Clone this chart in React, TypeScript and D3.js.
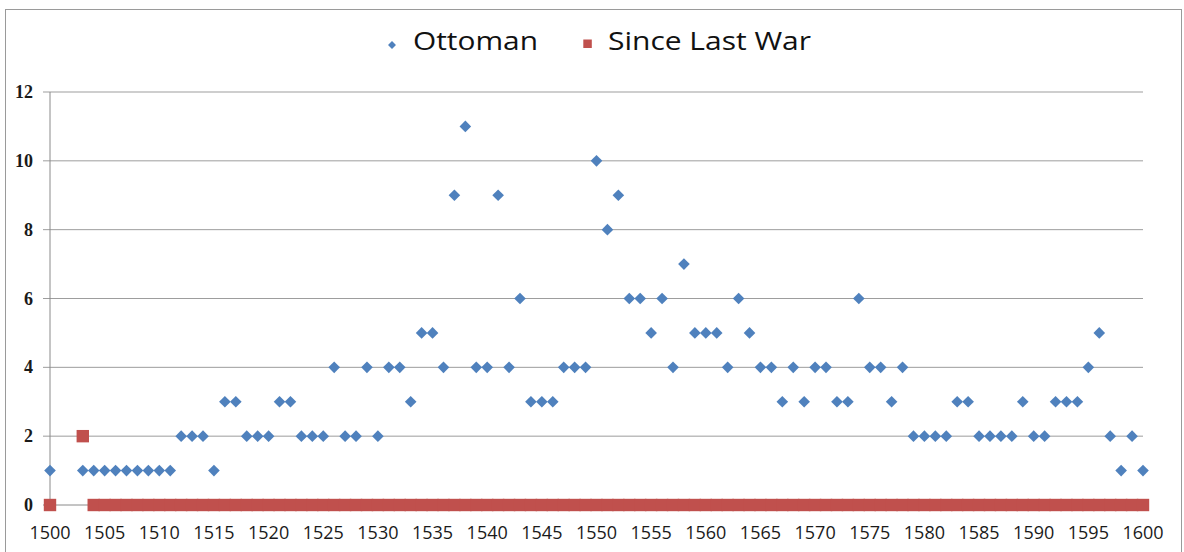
import React, { useEffect, useRef } from "react";
import * as d3 from "d3";

// years with Ottoman values (1501, 1502 have no point)
const ottomanYears = [
  1500, 1503, 1504, 1505, 1506, 1507, 1508, 1509, 1510, 1511,
  1512, 1513, 1514, 1515, 1516, 1517, 1518, 1519, 1520, 1521,
  1522, 1523, 1524, 1525, 1526, 1527, 1528, 1529, 1530, 1531,
  1532, 1533, 1534, 1535, 1536, 1537, 1538, 1539, 1540, 1541,
  1542, 1543, 1544, 1545, 1546, 1547, 1548, 1549, 1550, 1551,
  1552, 1553, 1554, 1555, 1556, 1557, 1558, 1559, 1560, 1561,
  1562, 1563, 1564, 1565, 1566, 1567, 1568, 1569, 1570, 1571,
  1572, 1573, 1574, 1575, 1576, 1577, 1578, 1579, 1580, 1581,
  1582, 1583, 1584, 1585, 1586, 1587, 1588, 1589, 1590, 1591,
  1592, 1593, 1594, 1595, 1596, 1597, 1598, 1599, 1600,
];
const ottomanValues = [
  1, 1, 1, 1, 1, 1, 1, 1, 1, 1,
  2, 2, 2, 1, 3, 3, 2, 2, 2, 3,
  3, 2, 2, 2, 4, 2, 2, 4, 2, 4,
  4, 3, 5, 5, 4, 9, 11, 4, 4, 9,
  4, 6, 3, 3, 3, 4, 4, 4, 10, 8,
  9, 6, 6, 5, 6, 4, 7, 5, 5, 5,
  4, 6, 5, 4, 4, 3, 4, 3, 4, 4,
  3, 3, 6, 4, 4, 3, 4, 2, 2, 2,
  2, 3, 3, 2, 2, 2, 2, 3, 2, 2,
  3, 3, 3, 4, 5, 2, 1, 2, 1,
];

// Since Last War: 1500 and 1503 explicit, then 0 from 1504 to 1600
const warYears = [1500, 1503, ...d3.range(1504, 1601)];
const warValues = [0, 2, ...d3.range(1504, 1601).map(() => 0)];

const xTicks = d3.range(1500, 1601, 5);
const yTicks = [0, 2, 4, 6, 8, 10, 12];

const App = () => {
  const ref = useRef<SVGSVGElement>(null);

  useEffect(() => {
    const width = 1184;
    const height = 552;
    const svg = d3.select(ref.current);
    svg.selectAll("*").remove();

    const x = d3.scaleLinear().domain([1500, 1600]).range([50, 1143]);
    const y = d3.scaleLinear().domain([0, 12]).range([505, 92]);

    svg.append("rect")
      .attr("width", width).attr("height", height).attr("fill", "#fff");
    svg.append("rect")
      .attr("x", 5.5).attr("y", 9.5)
      .attr("width", 1176).attr("height", 560)
      .attr("fill", "none").attr("stroke", "#9a9a9a");

    // gridlines
    svg.append("g")
      .selectAll("line")
      .data(yTicks.filter(d => d > 0))
      .enter().append("line")
      .attr("x1", x(1500) - 7).attr("x2", x(1600))
      .attr("y1", d => y(d)).attr("y2", d => y(d))
      .attr("stroke", "#9d9d9d").attr("stroke-width", 1);

    // axes lines
    svg.append("line")
      .attr("x1", x(1500)).attr("x2", x(1500))
      .attr("y1", y(12)).attr("y2", y(0))
      .attr("stroke", "#8a8a8a");
    svg.append("line")
      .attr("x1", x(1500) - 7).attr("x2", x(1600))
      .attr("y1", y(0)).attr("y2", y(0))
      .attr("stroke", "#8a8a8a");

    // y labels
    svg.append("g")
      .selectAll("text")
      .data(yTicks)
      .enter().append("text")
      .attr("x", 33).attr("y", d => y(d) + 6)
      .attr("text-anchor", "end")
      .attr("font-family", "Liberation Serif")
      .attr("font-weight", "bold")
      .attr("font-size", 18)
      .attr("fill", "#1a1a1a")
      .text(d => d);

    // x labels
    svg.append("g")
      .selectAll("text")
      .data(xTicks)
      .enter().append("text")
      .attr("x", d => x(d)).attr("y", 539)
      .attr("text-anchor", "middle")
      .attr("font-family", "Open Sans")
      .attr("font-size", 18)
      .attr("fill", "#1a1a1a")
      .text(d => d);

    const diamond = d3.symbol().type(d3.symbolDiamond2).size(86);
    const ottoman = ottomanYears.map((yr, i) => ({ yr, v: ottomanValues[i] }));
    svg.append("g")
      .attr("fill", "#4f81bd")
      .selectAll("path")
      .data(ottoman)
      .enter().append("path")
      .attr("d", diamond()!)
      .attr("transform", d => `translate(${x(d.yr)},${y(d.v)})`);

    const war = warYears.map((yr, i) => ({ yr, v: warValues[i] }));
    const sq = 12.4;
    svg.append("g")
      .attr("fill", "#c0504d")
      .selectAll("rect")
      .data(war)
      .enter().append("rect")
      .attr("x", d => x(d.yr) - sq / 2)
      .attr("y", d => y(d.v) - sq / 2)
      .attr("width", sq).attr("height", sq);

    // legend
    const legend = svg.append("g");
    legend.append("path")
      .attr("d", d3.symbol().type(d3.symbolDiamond2).size(40)()!)
      .attr("transform", "translate(392,45)")
      .attr("fill", "#4f81bd");
    legend.append("text")
      .attr("x", 413).attr("y", 49.5)
      .attr("font-family", "Open Sans").attr("font-size", 25)
      .attr("textLength", 125).attr("lengthAdjust", "spacingAndGlyphs")
      .attr("fill", "#111")
      .text("Ottoman");
    legend.append("rect")
      .attr("x", 583.3).attr("y", 39.5).attr("width", 8.5).attr("height", 8.5)
      .attr("fill", "#c0504d");
    legend.append("text")
      .attr("x", 608).attr("y", 49.5)
      .attr("font-family", "Open Sans").attr("font-size", 25)
      .attr("textLength", 203).attr("lengthAdjust", "spacingAndGlyphs")
      .attr("fill", "#111")
      .text("Since Last War");
  }, []);

  return (
    <div style={{ position: "fixed", left: 0, top: 0 }}>
      <svg ref={ref} width={1184} height={552} style={{ display: "block" }}></svg>
    </div>
  );
};

export default App;
